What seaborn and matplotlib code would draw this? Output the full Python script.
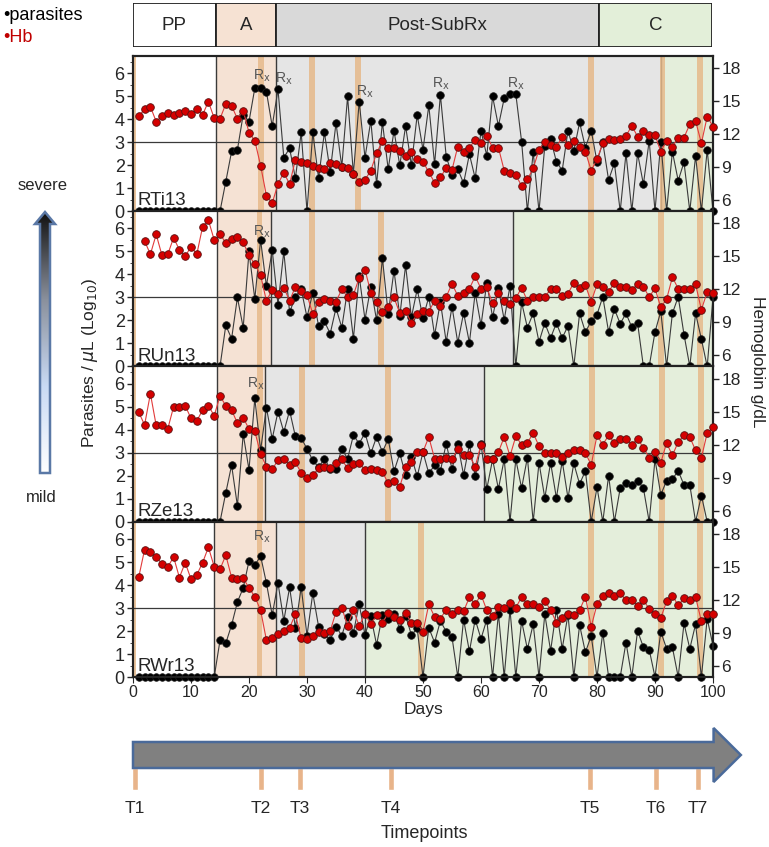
import numpy as np
import matplotlib
matplotlib.use("Agg")
import matplotlib.pyplot as plt
import seaborn as sns
from matplotlib.patches import FancyArrow, Polygon
from matplotlib.colors import LinearSegmentedColormap
from matplotlib.ticker import MultipleLocator

sns.set_style("white")
plt.rcParams["font.family"] = ["Liberation Sans", "DejaVu Sans"]

days = list(range(1, 101))
monkeys = ["RTi13", "RUn13", "RZe13", "RWr13"]

# parasites (log10 / uL), days 1-100
par_rti = [0] * 15 + [
    1.29, 2.6, 2.67, 4.2, 3.9, 5.35, 5.38, 5.2, 3.7, 5.3,
    2.33, 2.74, 1.43, 3.43, 0, 3.43, 1.43, 3.43, 1.72, 3.83,
    1.94, 4.99, 1.62, 4.77, 2.33, 3.94, 1.17, 3.87, 1.83, 3.5,
    1.99, 3.71, 1.99, 4.19, 2.67, 4.6, 2.04, 5.06,
    2.38, 1.58, 1.83, 1.22, 2.48, 1.43, 3.49, 2.42, 4.99, 3.71,
    4.91, 5.1, 5.1, 3.03, 0, 2.57, 0, 2.84, 3.13, 2.16,
    1.77, 3.5, 2.62, 3.86, 2.77, 3.51, 2.16, 2.99, 1.36, 2.09,
    0, 2.52, 0, 2.52, 1.17, 3.07, 0, 3.03, 0, 2.59,
    1.33, 2.13, 0, 2.41, 0, 2.67, 0]
par_run = [0] * 15 + [
    1.79, 1.21, 3.0, 1.69, 5.0, 2.93, 5.5, 3.5, 5.07, 2.69,
    5.0, 2.36, 3.03, 3.36, 2.14, 3.21, 1.74, 1.96, 1.43, 2.54,
    1.69, 3.36, 1.21, 3.93, 2.04, 3.47, 2.0, 4.71, 2.29, 4.17,
    2.19, 4.4, 2.14, 3.36, 2.1, 3.03, 1.36, 2.81, 1.07, 2.6,
    1.03, 2.33, 1.03, 3.21, 1.79, 3.64, 2.14, 3.4, 2.03, 3.5,
    0, 2.79, 1.69, 2.31, 1.07, 1.89, 1.24, 1.89, 1.24, 1.76,
    0, 2.31, 1.5, 1.97, 2.26, 3.03, 1.5, 2.5, 1.86, 2.31,
    1.71, 1.89, 0, 0, 1.5, 2.4, 0, 2.31, 3.03, 1.39,
    0, 2.31, 1.19, 0, 3.0]
par_rze = [0] * 15 + [
    1.26, 2.46, 0.69, 3.81, 2.26, 5.36, 3.11, 4.96, 3.6, 4.79,
    3.9, 4.83, 3.71, 3.64, 3.17, 2.67, 2.36, 2.74, 2.31, 2.31,
    3.17, 2.74, 3.76, 3.4, 3.86, 2.97, 3.69, 3.03, 3.6, 2.19,
    2.97, 2.03, 2.83, 1.97, 3.03, 2.1, 2.46, 2.21, 3.4, 2.29,
    3.36, 2.03, 3.36, 1.97, 3.39, 1.43, 2.71, 1.43, 2.71, 0,
    2.71, 1.46, 2.79, 0, 2.57, 1.03, 2.57, 1.03, 2.64, 1.03,
    2.54, 1.64, 2.21, 0, 1.5, 0, 2.0, 0, 1.46, 1.69,
    1.6, 1.79, 1.46, 0, 2.71, 1.17, 1.79, 1.86, 2.21, 1.6,
    1.6, 0, 1.14, 0, 0]
par_rwr = [0] * 14 + [
    1.59, 1.47, 2.26, 3.26, 3.87, 5.04, 4.86, 5.26, 4.09, 2.69,
    4.09, 2.44, 3.9, 2.14, 3.9, 1.8, 3.64, 2.19, 1.86, 1.61,
    2.19, 1.8, 2.61, 1.93, 3.16, 1.83, 2.64, 1.4, 2.69, 2.54,
    2.76, 2.09, 2.66, 1.83, 2.11, 0, 2.14, 1.5, 2.44, 1.97,
    1.73, 0, 2.5, 1.11, 2.5, 1.66, 2.5, 0, 2.76, 0,
    2.93, 0, 2.44, 1.21, 2.3, 0, 2.73, 1.14, 2.93, 1.23,
    2.71, 0, 2.26, 1.07, 1.79, 0, 1.93, 0, 0, 0,
    1.5, 0, 2.01, 1.29, 1.19, 0, 1.97, 1.23, 1.29, 0,
    2.33, 1.23, 2.3, 0, 2.54, 1.36]

# hemoglobin (g/dL), days 1-100
hb_rti = [
    13.67, 14.27, 14.5, 13.15, 13.67, 13.97, 13.76, 13.97, 14.15, 13.85,
    14.27, 13.76, 14.97, 13.45, 13.4, 14.76, 14.58, 13.4, 14.15, 12.15,
    11.42, 9.15, 6.42, 5.73, 7.48, 8.5, 7.48, 9.67, 9.45, 9.42,
    9.15, 8.9, 8.8, 9.42, 9.27, 9.06, 8.97, 8.36, 7.7, 7.85,
    8.7, 10.27, 11.39, 10.73, 10.73, 10.48, 10.06, 10.42, 9.73, 9.5,
    8.55, 7.6, 8.1, 8.9, 8.76, 10.88, 10.42, 10.79, 11.48, 11.24,
    11.85, 10.79, 10.79, 8.7, 8.5, 8.3, 7.3, 7.9, 8.9, 10.58,
    11.33, 11.03, 10.82, 11.73, 11.03, 11.42, 10.88, 10.42, 8.7, 9.73,
    11.18, 11.58, 11.48, 11.58, 11.85, 12.76, 11.79, 12.3, 11.94, 11.94,
    10.42, 11.42, 10.88, 11.7, 11.7, 12.9, 13.2, 11.18, 13.6, 12.7]
hb_run = [
    np.nan, 16.4, 15.2, 17.0, 15.09, 15.2, 16.7, 15.6, 15.0, 15.9,
    15.2, 17.7, 18.3, 16.5, 17.0, 16.25, 16.58, 16.8, 16.28, 15.09,
    14.3, 13.3, 10.97, 11.96, 11.57, 12.16, 10.97, 12.25, 11.87, 11.5,
    9.78, 10.88, 11.12, 10.97, 10.9, 12.0, 11.33, 11.5, 13.06, 13.8,
    11.72, 10.82, 9.99, 10.4, 11.27, 9.84, 10.07, 8.94, 9.78, 10.07,
    9.99, 10.97, 10.5, 11.33, 12.52, 11.42, 11.72, 12.07, 13.2, 12.07,
    12.22, 10.73, 11.72, 10.91, 10.67, 11.2, 12.16, 10.97, 11.33, 11.33,
    11.33, 12.01, 12.07, 11.42, 11.63, 12.61, 12.16, 12.4, 10.88, 12.46,
    12.22, 11.78, 12.61, 12.25, 12.22, 11.93, 12.52, 12.22, 11.33, 12.1,
    10.37, 11.12, 13.12, 12.07, 12.07, 12.07, 12.46, 10.16, 11.78, 11.72]
hb_rze = [
    14.94, 13.8, 16.64, 13.75, 13.8, 13.45, 15.45, 15.45, 15.54, 14.4,
    14.16, 15.15, 15.54, 14.64, 16.43, 15.54, 15.15, 13.96, 14.46, 13.42,
    13.21, 11.18, 9.99, 9.78, 10.58, 10.67, 10.16, 10.43, 9.42, 8.94,
    9.27, 9.84, 10.01, 9.84, 10.31, 10.67, 9.84, 10.22, 10.31, 9.72,
    9.78, 9.72, 9.54, 8.49, 8.73, 8.19, 9.93, 10.46, 11.33, 11.36,
    12.7, 10.73, 10.67, 10.82, 10.67, 11.63, 11.03, 11.03, 10.01, 12.01,
    10.67, 10.73, 11.33, 12.7, 10.97, 12.76, 12.01, 12.16, 13.06, 11.87,
    11.27, 11.27, 11.21, 10.88, 11.27, 11.48, 11.51, 11.27, 10.16, 12.85,
    12.01, 12.85, 12.16, 12.55, 12.55, 12.01, 12.55, 11.72, 10.82, 11.33,
    10.37, 12.16, 11.03, 12.25, 12.85, 12.7, 11.48, 10.82, 13.06, 13.57]
hb_rwr = [
    14.1, 16.58, 16.37, 15.9, 15.3, 15.0, 15.9, 14.04, 15.39, 13.9,
    14.28, 15.39, 16.79, 15.03, 14.79, 16.07, 14.04, 13.9, 13.99, 13.09,
    12.31, 11.06, 8.37, 8.58, 8.88, 9.2, 9.48, 10.7, 8.52, 8.46,
    8.73, 9.12, 9.03, 9.18, 10.91, 11.3, 9.66, 11.06, 9.66, 10.7,
    9.81, 10.61, 9.87, 10.85, 10.46, 10.16, 10.85, 9.93, 9.87, 9.12,
    11.6, 10.46, 10.31, 11.12, 10.76, 11.12, 10.97, 12.25, 11.6, 12.49,
    11.06, 10.55, 11.36, 11.3, 11.72, 11.3, 12.25, 11.6, 11.6, 11.36,
    11.87, 11.12, 9.93, 10.4, 10.76, 10.61, 11.06, 12.31, 9.57, 11.6,
    12.4, 12.61, 12.4, 12.61, 11.96, 12.04, 11.42, 11.96, 11.21, 10.76,
    10.37, 11.87, 12.4, 11.51, 12.16, 12.04, 12.25, 10.07, 10.76, 10.76]

# day where A, Post-SubRx and C start in each monkey
phase_starts = [[14.3, 24.7, 91.0], [14.5, 23.8, 65.5],
                [14.5, 22.8, 60.6], [13.9, 24.6, 40.0]]
# sampling bands (days)
bands = [[0, 22, 30.8, 38.8, 79, 91.3, 97.7], [0, 21.8, 30.8, 42.8, 79, 91, 97.7],
         [0, 21.9, 29.2, 43.9, 79.2, 91.2, 97.9], [0, 21.8, 29.2, 49.7, 79, 91, 97.7]]
rx_days = [[22.2, 26, 40, 53.1, 66], [22.2], [21.2], [22.2]]
rx_levels = [[5.9, 5.74, 5.2, 5.56, 5.56], [5.87], [6.0], [6.1]]

phase_names = ["PP", "A", "Post-SubRx", "C"]
phase_bar_edges = [0, 14.3, 24.7, 80.5, 100]
bar_colors = ["white", "#f6e2d3", "#d9d9d9", "#e3efd9"]
panel_colors = ["white", "#f5e2d4", "#e5e5e5", "#e4eedb"]

timepoint_labels = ["T1", "T2", "T3", "T4", "T5", "T6", "T7"]
timepoint_days = [0.3, 22, 28.8, 44.5, 78.8, 90.2, 97.4]

series = [(par_rti, hb_rti), (par_run, hb_run), (par_rze, hb_rze), (par_rwr, hb_rwr)]

W, H = 769, 847
fig = plt.figure(figsize=(W / 100, H / 100), dpi=100)


def fx(px):
    return px / W


def fy(py):
    return 1 - py / H


# severity arrow on the left
ov = fig.add_axes([0, 0, 1, 1])
ov.set_xlim(0, W)
ov.set_ylim(H, 0)
ov.axis("off")
arrow_pts = [(40, 473), (50, 473), (50, 224), (55, 224), (45, 212), (35, 224), (40, 224)]
arr = Polygon(arrow_pts, closed=True, facecolor="none", edgecolor="#5a78a6", lw=1.8, zorder=3)
ov.add_patch(arr)
cmap = LinearSegmentedColormap.from_list("sev", ["#111111", "#8a909c", "#c9daf4", "#ffffff"])
grad = np.linspace(0, 1, 256).reshape(-1, 1)
im = ov.imshow(grad, cmap=cmap, extent=[35, 55, 473, 212], origin="upper", aspect="auto", zorder=2)
im.set_clip_path(arr)
ov.set_xlim(0, W)
ov.set_ylim(H, 0)
ov.text(43, 185, "severe", ha="center", va="center", fontsize=12)
ov.text(41, 497, "mild", ha="center", va="center", fontsize=12)

x0, x1 = 133, 713
top0, ph = 56, 155.25
p_top = 6.75
hb_lo, hb_hi = 5.0, 5.0 + p_top * 2.09

for i, name in enumerate(monkeys):
    par, hb = series[i]
    top = top0 + i * ph
    ax = fig.add_axes([fx(x0), fy(top + ph), fx(x1) - fx(x0), ph / H])
    edges = [0] + phase_starts[i] + [100]
    for j in range(4):
        ax.axvspan(edges[j], edges[j + 1], color=panel_colors[j], lw=0, zorder=0)
    for b in phase_starts[i]:
        ax.axvline(b, color="#3a3a3a", lw=1.0, zorder=1)
    for t in bands[i]:
        ax.axvspan(t - 0.5, t + 0.5, color="#e6b98a", alpha=0.85, lw=0, zorder=1)
    ax.axhline(3, color="#3a3a3a", lw=0.9, zorder=2)
    sns.lineplot(x=days, y=par, ax=ax, color="#3a3a3a", linewidth=0.8, marker="o",
                 markersize=5.5, markerfacecolor="black", markeredgecolor="#222222",
                 markeredgewidth=0.5, clip_on=False, zorder=3, errorbar=None)
    for d, lv in zip(rx_days[i], rx_levels[i]):
        ax.text(d, lv, "R$_\\mathrm{x}$", color="#555555", fontsize=10, ha="center", va="center")
    ax.text(0.7, 0.08, name, fontsize=13.5, va="bottom", ha="left", zorder=5)
    ax.set_xlim(0, 100)
    ax.set_ylim(0, p_top)
    ax.set_yticks(range(7))
    ax.yaxis.set_minor_locator(MultipleLocator(0.5))
    ax.tick_params(axis="y", which="major", labelsize=13, length=4, width=1, left=True, pad=2)
    ax.tick_params(axis="y", which="minor", length=2, width=0.6, left=True)
    ax.set_ylabel("")
    if i == 3:
        ax.set_xticks(range(0, 101, 10))
        ax.tick_params(axis="x", labelsize=11.5, length=4, bottom=True, pad=2)
        ax.set_xlabel("Days", fontsize=12.5, labelpad=1)
    else:
        ax.set_xticks([])
        ax.set_xlabel("")

    ax2 = ax.twinx()
    sns.lineplot(x=days, y=hb, ax=ax2, color="#e23b3b", linewidth=0.8, marker="o",
                 markersize=5.5, markerfacecolor="#d40000", markeredgecolor="#5a1010",
                 markeredgewidth=0.6, clip_on=False, zorder=4, errorbar=None)
    ax2.set_ylim(hb_lo, hb_hi)
    ax2.set_yticks([6, 9, 12, 15, 18])
    ax2.tick_params(axis="y", labelsize=12.5, length=4, width=1, right=True, pad=2)
    ax2.set_ylabel("")
    for a in (ax, ax2):
        for s in a.spines.values():
            s.set_linewidth(1.5)
            s.set_color("#222222")

fig.text(fx(90), fy(363), "Parasites / $\\mu$L (Log$_{10}$)", rotation=90,
         ha="center", va="center", fontsize=12.5)
fig.text(fx(757), fy(362), "Hemoglobin g/dL", rotation=270,
         ha="center", va="center", fontsize=12.5)

# legend
fig.text(fx(3), fy(15), "\u2022parasites", color="black", fontsize=13, va="center")
fig.text(fx(3), fy(38), "\u2022Hb", color="#c00000", fontsize=13, va="center")

# phase bar on top
axb = fig.add_axes([fx(x0), fy(47), fx(712) - fx(x0), 44 / H])
lefts = phase_bar_edges[:-1]
widths = [phase_bar_edges[k + 1] - phase_bar_edges[k] for k in range(4)]
axb.barh(0, widths, left=lefts, height=1, color=bar_colors, edgecolor="#222222", linewidth=1.3)
for k, nm in enumerate(phase_names):
    axb.text(lefts[k] + widths[k] / 2, 0, nm, ha="center", va="center", fontsize=13.5)
axb.set_xlim(0, 100)
axb.set_ylim(-0.5, 0.5)
axb.axis("off")

# timeline arrow at the bottom
axt = fig.add_axes([fx(x0), 0, fx(x1) - fx(x0), 127 / H])
axt.set_xlim(0, 100)
axt.set_ylim(H, 720)
axt.axis("off")
axt.bar(timepoint_days, 22, bottom=768, width=1.0, color="#e8b48a", zorder=1)
axt.add_patch(FancyArrow(0, 755, 104.8, 0, width=26, head_width=54, head_length=4.7,
                         length_includes_head=True, fc="#808080", ec="#4a6a9a",
                         lw=1.8, clip_on=False, zorder=2))
for d, lab in zip(timepoint_days, timepoint_labels):
    axt.text(d, 808, lab, ha="center", va="center", fontsize=12.5)
axt.text(50.2, 833, "Timepoints", ha="center", va="center", fontsize=13)

fig.savefig("out.png", dpi=100)
